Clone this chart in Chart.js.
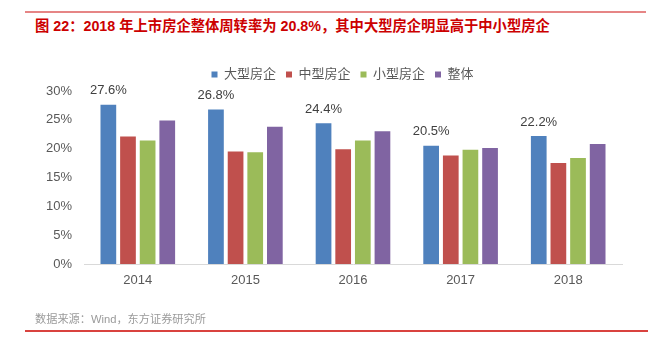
<!DOCTYPE html>
<html>
<head>
<meta charset="utf-8">
<script src="https://cdn.jsdelivr.net/npm/chart.js@4"></script>
<style>
  html, body { margin: 0; padding: 0; background: #fff; }
  #wrap { position: relative; width: 651px; height: 340px; overflow: hidden; }
  #topline { position: absolute; left: 25px; top: 11px; width: 621px; height: 2px; background: #e68585; }
  #title { position: absolute; left: 35px; top: 16px; font-family: "Liberation Sans", "Noto Sans CJK SC", sans-serif; font-size: 14.3px; font-weight: bold; color: #cc0000; white-space: nowrap; line-height: 20px; }
  #source { position: absolute; left: 35px; top: 311px; font-family: "Liberation Sans", "Noto Sans CJK SC", sans-serif; font-size: 11.2px; color: #9a9a9a; white-space: nowrap; line-height: 16px; }
  #bottomline { position: absolute; left: 25px; top: 330px; width: 623px; height: 1.5px; background: #d9433f; }
  #c { position: absolute; left: 0; top: 0; }
</style>
</head>
<body>
<div id="wrap">
  <div id="topline"></div>
  <div id="title">图 22：2018 年上市房企整体周转率为 20.8%，其中大型房企明显高于中小型房企</div>
  <canvas id="c" width="651" height="340"></canvas>
  <div id="source">数据来源：Wind，东方证券研究所</div>
  <div id="bottomline"></div>
</div>
<script>
const categories = ["2014", "2015", "2016", "2017", "2018"];
const seriesNames = ["大型房企", "中型房企", "小型房企", "整体"];
const large = [27.6, 26.8, 24.4, 20.5, 22.2];
const medium = [22.1, 19.5, 19.9, 18.8, 17.5];
const small = [21.4, 19.4, 21.4, 19.8, 18.4];
const overall = [24.9, 23.8, 23.0, 20.1, 20.8];
const yTicks = [0, 5, 10, 15, 20, 25, 30];
const colors = ["#4f81bd", "#c0504d", "#9bbb59", "#8064a2"];

const FONT = '"Liberation Sans", "Noto Sans CJK SC", sans-serif';

const labelPlugin = {
  id: 'blueLabels',
  afterDatasetsDraw(chart) {
    const ctx = chart.ctx;
    const meta = chart.getDatasetMeta(0);
    ctx.save();
    ctx.font = '13px ' + FONT;
    ctx.fillStyle = '#404040';
    ctx.textAlign = 'center';
    ctx.textBaseline = 'middle';
    meta.data.forEach((bar, i) => {
      ctx.fillText(large[i].toFixed(1) + '%', bar.x, bar.y - 14);
    });
    ctx.restore();
  }
};

const legendShift = {
  id: 'legendShift',
  afterLayout(chart) {
    const lg = chart.legend;
    if (lg) { lg.left += 14.5; lg.right += 14.5; }
  }
};

const allSeries = [large, medium, small, overall];
new Chart(document.getElementById('c'), {
  type: 'bar',
  data: {
    labels: categories,
    datasets: allSeries.map((d, i) => ({
      label: seriesNames[i],
      data: d,
      backgroundColor: colors[i],
      borderWidth: 0,
      categoryPercentage: 0.73,
      barPercentage: 0.8
    }))
  },
  options: {
    responsive: false,
    animation: false,
    devicePixelRatio: 1,
    layout: { padding: { left: 34, right: 29, top: 58, bottom: 46 } },
    plugins: {
      legend: {
        display: true,
        position: 'top',
        labels: {
          boxWidth: 6,
          boxHeight: 6,
          padding: 10,
          color: '#595959',
          font: { family: FONT, size: 13 }
        }
      },
      tooltip: { enabled: false }
    },
    scales: {
      x: {
        grid: { display: false, drawTicks: false },
        border: { display: true, color: '#d9d9d9', width: 1 },
        ticks: { color: '#595959', font: { family: FONT, size: 13 }, padding: 9 },
        afterFit(s) { s.height = 30; }
      },
      y: {
        min: 0, max: 30,
        grid: { display: false, drawTicks: false },
        border: { display: false },
        afterBuildTicks(s) { s.ticks = yTicks.map(v => ({ value: v })); },
        ticks: {
          color: '#595959',
          font: { family: FONT, size: 13 },
          padding: 12,
          callback: v => v + '%'
        },
        afterFit(s) { s.width = 50; }
      }
    }
  },
  plugins: [labelPlugin, legendShift]
});
</script>
</body>
</html>
